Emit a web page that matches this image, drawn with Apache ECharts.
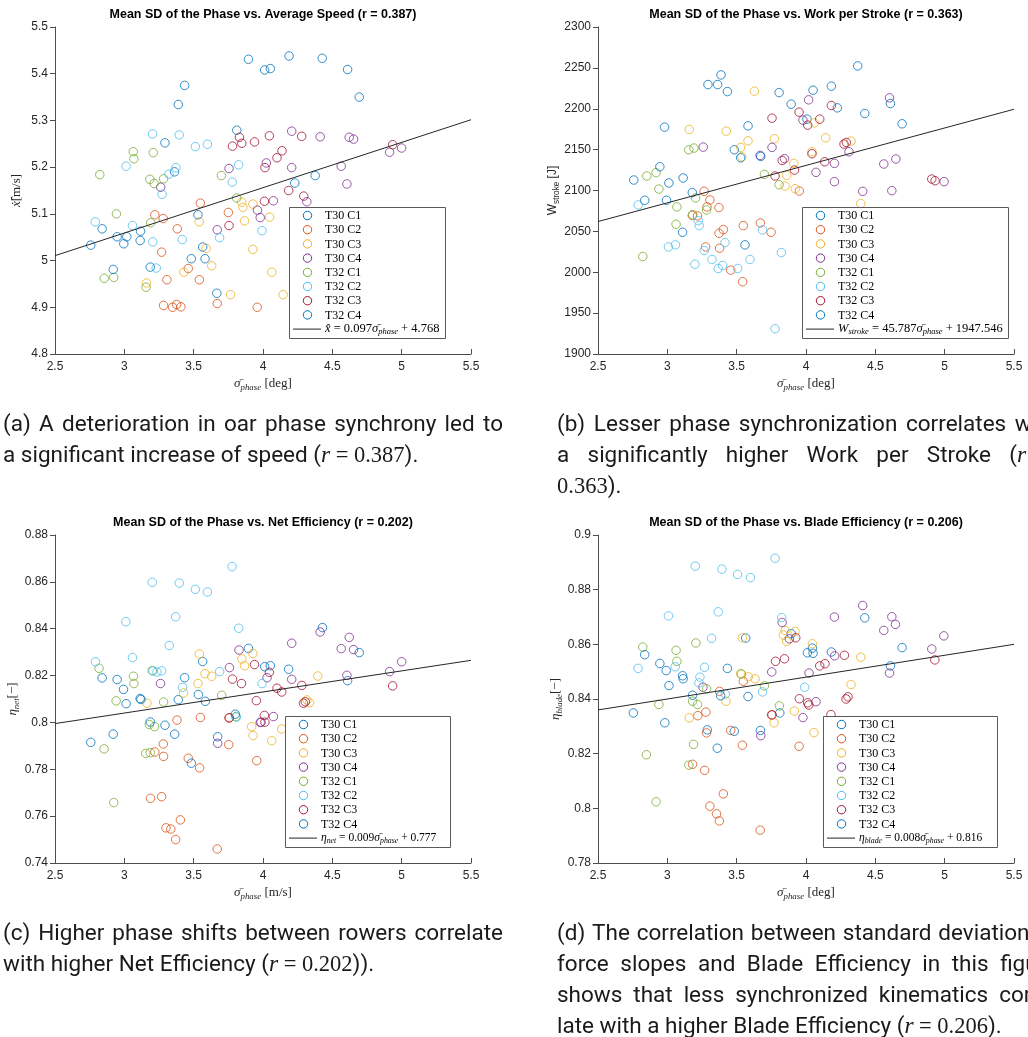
<!DOCTYPE html>
<html>
<head>
<meta charset="utf-8">
<script src="https://cdn.jsdelivr.net/npm/echarts@6/dist/echarts.min.js"></script>
<style>
html,body{margin:0;padding:0;background:#fff;}
#chart{width:1028px;height:1037px;}
</style>
</head>
<body>
<div id="chart"></div>
<script>
// ---- crews / conditions ----
const seriesNames = ['T30 C1','T30 C2','T30 C3','T30 C4','T32 C1','T32 C2','T32 C3','T32 C4'];
const seriesColors = ['#0072BD','#D95319','#EDB120','#7E2F8E','#77AC30','#4DBEEE','#A2142F','#0072BD'];

// ---- mean SD of phase [deg] vs. average speed [m/s] ----
const speedPoints = [
  [[3.435,5.375],[3.389,5.334],[3.811,5.279],[3.895,5.431],[4.012,5.408],[4.053,5.411],[4.188,5.438],[4.427,5.433],[4.61,5.409],[4.694,5.35],[4.376,5.182],[4.229,5.166],[3.293,5.252],[3.362,5.19]],
  [[3.22,5.098],[3.28,5.09],[3.382,5.068],[3.269,5.018],[3.548,5.123],[3.75,5.103],[3.307,4.959],[3.461,4.983],[3.541,4.959],[3.67,4.908],[3.283,4.904],[3.348,4.9],[3.377,4.906],[3.408,4.901],[3.958,4.9]],
  [[3.54,5.083],[3.59,5.026],[3.847,5.125],[3.855,5.114],[3.867,5.085],[3.927,5.121],[3.927,5.024],[3.63,4.989],[3.16,4.952],[3.43,4.975],[3.766,4.927],[4.048,5.093],[4.063,4.975],[4.145,4.927]],
  [[3.262,5.157],[3.755,5.197],[3.67,5.066],[3.96,5.108],[3.98,5.092],[4.207,5.277],[4.412,5.265],[4.622,5.264],[4.653,5.26],[4.913,5.232],[5.0,5.241],[4.024,5.209],[4.207,5.199],[4.564,5.202],[4.605,5.164],[4.316,5.126],[4.075,5.128]],
  [[3.064,5.233],[3.069,5.218],[3.208,5.231],[2.823,5.184],[3.184,5.174],[3.215,5.165],[3.283,5.175],[3.7,5.182],[2.943,5.1],[3.19,5.081],[3.81,5.134],[2.855,4.962],[2.924,4.964],[3.157,4.943]],
  [[3.204,5.271],[3.396,5.269],[3.512,5.244],[3.599,5.249],[3.013,5.202],[3.372,5.199],[3.322,5.185],[3.272,5.142],[3.824,5.205],[3.778,5.168],[2.79,5.083],[3.059,5.075],[3.205,5.04],[3.418,5.045],[3.687,5.049],[3.23,4.984],[3.993,5.064]],
  [[3.83,5.264],[3.847,5.251],[3.78,5.245],[3.939,5.254],[3.755,5.075],[4.046,5.267],[4.279,5.266],[4.935,5.248],[4.137,5.235],[4.101,5.22],[4.014,5.199],[4.185,5.15],[4.294,5.138],[4.01,5.127]],
  [[2.84,5.068],[3.117,5.063],[3.114,5.043],[2.948,5.051],[3.018,5.051],[2.996,5.036],[2.758,5.033],[3.531,5.098],[3.565,5.029],[3.582,5.004],[3.483,5.004],[2.92,4.981],[3.187,4.986],[3.667,4.93]]
];

// ---- mean SD of phase [deg] vs. work per stroke [J] ----
const workPoints = [
  [[3.387,2241.4],[3.293,2229.6],[3.363,2229.6],[3.433,2221],[3.806,2219.8],[3.893,2205.6],[4.373,2252.4],[4.051,2222.7],[4.183,2227.6],[4.609,2206.4],[4.226,2201.1],[4.424,2194.2],[4.693,2181.6],[4.007,2187.3]],
  [[3.265,2099],[3.307,2088.4],[3.286,2079.9],[3.372,2079.1],[3.18,2069.5],[3.218,2068.9],[3.373,2047.7],[3.404,2052.2],[3.548,2057.1],[3.671,2060.3],[3.748,2048.9],[3.276,2031],[3.377,2029.4],[3.457,2002.6],[3.543,1988.4],[3.952,2099.4]],
  [[3.628,2221.5],[3.158,2174.7],[3.425,2172.6],[3.582,2160.8],[3.772,2163.3],[3.529,2152.7],[3.536,2141.3],[3.912,2133.2],[3.861,2118.5],[3.849,2105.5],[3.922,2102.2],[4.06,2182.8],[4.142,2164.5],[4.325,2160.4],[4.043,2147.4],[4.395,2084]],
  [[3.259,2153.1],[3.669,2142.9],[3.755,2152.7],[3.845,2138.9],[4.019,2210.9],[4.602,2213.3],[3.978,2186.1],[4.31,2147.4],[4.205,2133.2],[4.561,2132.4],[4.648,2138.5],[4.072,2122.2],[4.205,2110.8],[4.409,2099],[4.619,2099.8],[4.996,2110.8]],
  [[3.155,2149.8],[3.192,2151.9],[3.7,2119.7],[3.806,2107.1],[2.919,2121.8],[2.852,2117.7],[2.939,2101.8],[3.204,2090.9],[3.069,2079.9],[3.283,2076.2],[3.183,2070.5],[3.063,2058.7],[2.823,2019.2]],
  [[2.79,2082.3],[3.223,2063.2],[3.23,2057.1],[3.686,2051.8],[3.008,2031],[3.059,2033.5],[3.416,2036.3],[3.266,2026.6],[3.822,2024.1],[3.199,2009.9],[3.322,2015.6],[3.367,2004.6],[3.399,2008.3],[3.507,2004.6],[3.596,2015.6],[3.777,1930.9]],
  [[3.755,2188.5],[3.828,2136.8],[3.777,2117.7],[3.917,2125],[3.95,2195.8],[4.183,2204],[4.012,2180],[4.099,2187.3],[4.274,2156.8],[4.291,2158.8],[4.043,2145],[4.135,2135.2],[4.907,2114],[4.931,2112]],
  [[2.98,2177.5],[3.582,2179.1],[3.483,2149.8],[3.529,2140],[2.946,2129.1],[2.758,2112.8],[3.011,2109.2],[3.114,2115.3],[3.18,2097.4],[2.837,2088],[2.994,2088],[3.11,2048.9],[3.56,2033.5],[3.674,2141.7]]
];

// ---- mean SD of phase vs. net efficiency [-] ----
const netEffPoints = [
  [[3.895,0.8316],[4.429,0.8405],[4.012,0.8238],[4.053,0.8242],[4.185,0.8227],[4.694,0.8298],[4.61,0.8178],[3.565,0.826],[3.435,0.8191],[3.389,0.8097],[3.534,0.8119],[3.584,0.809],[3.673,0.7939]],
  [[3.38,0.801],[3.548,0.8021],[3.755,0.8019],[3.753,0.7905],[3.22,0.7874],[3.281,0.7908],[3.283,0.7855],[3.461,0.7847],[3.543,0.7806],[3.955,0.7837],[3.189,0.7676],[3.269,0.7683],[3.404,0.7584],[3.3,0.755],[3.335,0.7545],[3.37,0.75],[3.67,0.746]],
  [[3.541,0.8292],[3.582,0.8208],[3.63,0.8197],[3.531,0.8166],[3.427,0.8126],[3.163,0.8082],[3.847,0.8271],[3.867,0.8242],[3.927,0.8294],[3.929,0.7944],[4.395,0.8198],[4.316,0.8096],[3.918,0.7982],[4.063,0.7922],[4.135,0.7972],[4.336,0.8084]],
  [[3.261,0.8166],[3.758,0.8234],[3.827,0.8309],[3.673,0.7911],[4.412,0.8386],[4.622,0.8363],[4.207,0.8338],[4.564,0.8315],[4.653,0.8311],[4.029,0.8191],[4.207,0.8184],[4.605,0.8201],[4.913,0.8217],[5.0,0.8259],[3.986,0.8001],[4.075,0.8025],[3.98,0.8]],
  [[2.818,0.8231],[3.201,0.8221],[3.066,0.8197],[3.069,0.8166],[2.941,0.8092],[3.283,0.8087],[3.702,0.8116],[3.18,0.7991],[3.218,0.7982],[3.804,0.8025],[2.854,0.7887],[3.155,0.7868],[3.187,0.7871],[2.924,0.7658]],
  [[3.777,0.8665],[3.201,0.8598],[3.396,0.8595],[3.512,0.8568],[3.599,0.8557],[3.011,0.843],[3.37,0.8451],[3.825,0.8402],[3.324,0.8328],[2.792,0.8259],[3.059,0.8277],[3.206,0.822],[3.235,0.8215],[3.269,0.822],[3.687,0.8217],[3.42,0.815],[3.993,0.8166],[3.808,0.8023]],
  [[3.78,0.8185],[3.939,0.8247],[3.845,0.8166],[3.757,0.802],[4.046,0.8214],[4.935,0.8156],[4.28,0.8158],[4.101,0.8146],[4.135,0.813],[3.952,0.8093],[4.292,0.8082],[4.305,0.8088],[4.01,0.803],[4.014,0.8001]],
  [[2.84,0.819],[2.948,0.8183],[2.994,0.8141],[3.013,0.808],[3.114,0.8102],[3.12,0.8098],[3.187,0.8002],[3.293,0.7988],[2.92,0.795],[2.758,0.7915],[3.363,0.795],[3.483,0.7826],[3.8,0.8035]]
];

// ---- mean SD of phase [deg] vs. blade efficiency [-] ----
const bladeEffPoints = [
  [[3.565,0.8623],[3.893,0.8639],[4.424,0.8697],[4.046,0.8586],[4.01,0.8569],[4.051,0.8567],[4.183,0.8572],[4.693,0.8588],[4.609,0.8521],[3.433,0.8512],[3.582,0.8409],[3.811,0.8349],[3.671,0.8285]],
  [[3.548,0.8465],[3.377,0.8428],[3.22,0.8339],[3.278,0.8352],[3.283,0.8276],[3.457,0.8285],[3.751,0.8342],[3.541,0.8231],[3.182,0.8161],[3.269,0.8139],[3.404,0.8053],[3.307,0.8008],[3.355,0.798],[3.375,0.7954],[3.67,0.792],[3.95,0.8227]],
  [[3.541,0.8624],[3.849,0.8651],[3.837,0.8634],[3.861,0.8611],[3.529,0.8493],[3.584,0.8481],[3.633,0.8474],[3.423,0.8392],[3.158,0.8331],[3.77,0.8313],[3.921,0.8647],[4.046,0.8602],[4.395,0.8553],[4.325,0.8453],[3.916,0.8356],[4.058,0.8277]],
  [[3.828,0.868],[3.257,0.8443],[3.753,0.8499],[3.674,0.8266],[4.409,0.8742],[4.205,0.87],[4.619,0.8701],[4.645,0.8673],[4.561,0.8651],[4.994,0.8631],[4.207,0.8558],[4.022,0.8495],[4.907,0.8583],[4.602,0.8495],[4.072,0.839],[3.978,0.8332],[3.88,0.862]],
  [[3.206,0.8605],[2.823,0.859],[3.063,0.8578],[3.069,0.8538],[3.283,0.8437],[3.534,0.8491],[3.70,0.8448],[3.182,0.8392],[3.218,0.838],[2.939,0.838],[3.808,0.8375],[3.189,0.8234],[2.849,0.8196],[3.155,0.8158],[2.919,0.8024]],
  [[3.777,0.8915],[3.201,0.8886],[3.394,0.8875],[3.507,0.8856],[3.599,0.8844],[3.367,0.8719],[3.008,0.8704],[3.825,0.8698],[3.319,0.8622],[2.789,0.8512],[3.057,0.8518],[3.268,0.8516],[3.235,0.848],[3.228,0.8459],[3.686,0.8426],[3.418,0.8418],[3.99,0.8443]],
  [[3.78,0.8538],[3.845,0.8547],[3.755,0.8342],[3.926,0.8624],[4.277,0.856],[4.137,0.8529],[4.099,0.8521],[4.929,0.8543],[4.303,0.8408],[4.289,0.84],[3.952,0.8401],[4.012,0.8386],[4.02,0.8378],[4.18,0.8343]],
  [[2.837,0.8562],[2.946,0.853],[2.992,0.8504],[3.11,0.8485],[3.114,0.8474],[3.012,0.8449],[3.182,0.8414],[3.384,0.8412],[2.755,0.8349],[2.982,0.8313],[3.288,0.8287],[3.483,0.8282],[3.36,0.822]]
];

// ---- linear fits (slope, intercept) as printed in the legends ----
const fitSlopes = [0.097, 45.787, 0.009, 0.008];
const fitIntercepts = [4.768, 1947.546, 0.777, 0.816];
const fitLabels = ['0.097','45.787','0.009','0.008'];
const fitOffsets = ['4.768','1947.546','0.777','0.816'];

// ---- axis ranges [min, max, step] ----
const phaseRange = [2.5, 5.5, 0.5];
const speedRange = [4.8, 5.5, 0.1];
const workRange = [1900, 2300, 50];
const netEffRange = [0.74, 0.88, 0.02];
const bladeEffRange = [0.78, 0.9, 0.02];

const panelTitles = [
  'Mean SD of the Phase vs. Average Speed (r = 0.387)',
  'Mean SD of the Phase vs. Work per Stroke (r = 0.363)',
  'Mean SD of the Phase vs. Net Efficiency (r = 0.202)',
  'Mean SD of the Phase vs. Blade Efficiency (r = 0.206)'
];

// caption lines: [text, justified]
const captionA = [
  ['(a) A deterioration in oar phase synchrony led to', true],
  ['a significant increase of speed ({r|r} {m|=} {m|0.387}).', false]
];
const captionB = [
  ['(b) Lesser phase synchronization correlates with', true],
  ['a significantly higher Work per Stroke ({r|r} {m|=}', true],
  ['{m|0.363}).', false]
];
const captionC = [
  ['(c) Higher phase shifts between rowers correlate', true],
  ['with higher Net Efficiency ({r|r} {m|=} {m|0.202})).', false]
];
const captionD = [
  ['(d) The correlation between standard deviation of', true],
  ['force slopes and Blade Efficiency in this figure', true],
  ['shows that less synchronized kinematics corre-', true],
  ['late with a higher Blade Efficiency ({r|r} {m|=} {m|0.206}).', false]
];

// ---------------------------------------------------------------
const AXIS_COLOR = '#4d4d4d';
const TEXT_COLOR = '#262626';
const SERIF = 'Liberation Serif';

const serifRich = (size) => ({
  i: {fontFamily: SERIF, fontStyle: 'italic', fontSize: size, color: TEXT_COLOR, lineHeight: 16},
  s: {fontFamily: SERIF, fontStyle: 'italic', fontSize: size * 0.68, color: TEXT_COLOR, lineHeight: 16, padding: [7, 0, 0, 0]},
  n: {fontFamily: SERIF, fontSize: size, color: TEXT_COLOR, lineHeight: 16},
  a: {fontFamily: 'Liberation Sans', fontSize: size - 1, color: TEXT_COLOR, lineHeight: 16},
  b: {fontFamily: 'Liberation Sans', fontSize: (size - 1) * 0.68, color: TEXT_COLOR, lineHeight: 16, padding: [7, 0, 0, 0]}
});

const tickText = v => String(+v.toFixed(6));

const panels = [
  {points: speedPoints, range: speedRange, grid: {left: 55, top: 27, width: 416, height: 327},
   yName: '{i|ẋ̂}{n|[m/s]}', yGap: 30, xName: '{i|σ̄}{s|phase} {n|[deg]}',
   legend: [289, 207, 156, 131], eqHead: '{i|x̂}'},
  {points: workPoints, range: workRange, grid: {left: 598, top: 27, width: 416, height: 327},
   yName: '{a|W}{b|stroke}{a| [J]}', yGap: 36, xName: '{i|σ̄}{s|phase} {n|[deg]}',
   legend: [802, 207, 206, 131], eqHead: '{i|W}{s|stroke}'},
  {points: netEffPoints, range: netEffRange, grid: {left: 55, top: 535, width: 416, height: 328},
   yName: '{i|η}{s|net}{n|[−]}', yGap: 34, xName: '{i|σ̄}{s|phase} {n|[m/s]}',
   legend: [285, 716, 165, 131], eqHead: '{i|η}{s|net}'},
  {points: bladeEffPoints, range: bladeEffRange, grid: {left: 598, top: 535, width: 416, height: 328},
   yName: '{i|η}{s|blade}{n|[−]}', yGap: 34, xName: '{i|σ̄}{s|phase} {n|[deg]}',
   legend: [823, 716, 174, 131], eqHead: '{i|η}{s|blade}'}
];

const grids = [], xAxes = [], yAxes = [], series = [], graphics = [];

panels.forEach((p, k) => {
  grids.push(Object.assign({containLabel: false}, p.grid));
  xAxes.push({
    type: 'value', gridIndex: k, min: phaseRange[0], max: phaseRange[1], interval: phaseRange[2],
    axisLine: {show: true, onZero: false, lineStyle: {color: AXIS_COLOR, width: 1}},
    axisTick: {show: true, inside: true, length: 5, lineStyle: {color: AXIS_COLOR}},
    axisLabel: {color: TEXT_COLOR, fontFamily: 'Liberation Sans', fontSize: 12, margin: 7, formatter: tickText},
    splitLine: {show: false},
    name: p.xName, nameLocation: 'middle', nameGap: 22,
    nameTextStyle: {rich: serifRich(13)}
  });
  yAxes.push({
    type: 'value', gridIndex: k, min: p.range[0], max: p.range[1], interval: p.range[2],
    axisLine: {show: true, onZero: false, lineStyle: {color: AXIS_COLOR, width: 1}},
    axisTick: {show: true, inside: false, length: 5, lineStyle: {color: AXIS_COLOR}},
    axisLabel: {color: TEXT_COLOR, fontFamily: 'Liberation Sans', fontSize: 12, margin: 7, formatter: tickText},
    splitLine: {show: false},
    name: p.yName, nameLocation: 'middle', nameGap: p.yGap, nameRotate: 90,
    nameTextStyle: {rich: serifRich(13)}
  });

  p.points.forEach((pts, s) => {
    series.push({
      type: 'scatter', name: seriesNames[s], xAxisIndex: k, yAxisIndex: k,
      data: pts, symbol: 'circle', symbolSize: 8.5, silent: true,
      itemStyle: {color: 'rgba(0,0,0,0)', borderColor: seriesColors[s], borderWidth: 1}
    });
  });

  // fitted regression line over the full axis span
  const x0 = phaseRange[0], x1 = phaseRange[1];
  series.push({
    type: 'line', xAxisIndex: k, yAxisIndex: k, silent: true, showSymbol: false,
    data: [[x0, fitIntercepts[k] + fitSlopes[k] * x0], [x1, fitIntercepts[k] + fitSlopes[k] * x1]],
    lineStyle: {color: '#262626', width: 1}, z: 3
  });

  // panel title
  graphics.push({
    type: 'text', x: p.grid.left + p.grid.width / 2, y: p.grid.top - 12, z: 100,
    style: {text: panelTitles[k], fontFamily: 'Liberation Sans', fontWeight: 'bold', fontSize: 12.5,
            fill: '#000', align: 'center', verticalAlign: 'middle'}
  });

  // legend box
  const [bx, by, bw, bh] = p.legend;
  graphics.push({type: 'rect', z: 100, shape: {x: bx + 0.5, y: by + 0.5, width: bw, height: bh},
                 style: {fill: '#fff', stroke: '#5a5a5a', lineWidth: 1}});
  const step = 14.2;
  seriesNames.forEach((nm, s) => {
    const ry = by + 8.5 + s * step;
    graphics.push({type: 'circle', z: 101, shape: {cx: bx + 18.5, cy: ry, r: 4.2},
                   style: {fill: 'none', stroke: seriesColors[s], lineWidth: 1}});
    graphics.push({type: 'text', z: 101, x: bx + 36, y: ry + 0.5,
                   style: {text: nm, fontFamily: SERIF, fontSize: 12, fill: '#000', align: 'left', verticalAlign: 'middle'}});
  });
  const ly = by + 8.5 + 8 * step;
  graphics.push({type: 'line', z: 101, shape: {x1: bx + 4, y1: ly, x2: bx + 32, y2: ly},
                 style: {stroke: '#262626', lineWidth: 1}});
  const eqSize = k >= 2 ? 11.5 : 12.5;
  const eqRich = serifRich(eqSize);
  Object.keys(eqRich).forEach(key => { eqRich[key].color = undefined; eqRich[key].fill = '#000'; eqRich[key].lineHeight = 14; });
  eqRich.s.padding = [6, 0, 0, 0];
  graphics.push({type: 'text', z: 101, x: bx + 36, y: ly,
                 style: {text: p.eqHead + '{n| = ' + fitLabels[k] + '}{i|σ̄}{s|phase}{n| + ' + fitOffsets[k] + '}',
                         rich: eqRich, fontFamily: SERIF, fontSize: eqSize, fill: '#000', align: 'left', verticalAlign: 'middle'}});
});

// ---- subfigure captions (justified like the document text) ----
const CAP_SIZE = 22.5;
const capFonts = {
  '': CAP_SIZE + 'px Roboto',
  r: 'italic ' + (CAP_SIZE + 1) + 'px "' + SERIF + '"',
  m: CAP_SIZE + 'px "' + SERIF + '"'
};
const capRich = {
  r: {fontFamily: SERIF, fontStyle: 'italic', fontSize: CAP_SIZE + 1, fill: '#1a1a1a'},
  m: {fontFamily: SERIF, fontSize: CAP_SIZE, fill: '#1a1a1a'}
};
const mctx = document.createElement('canvas').getContext('2d');
function measureWord(word) {
  let w = 0, last = 0, m;
  const re = /\{(\w+)\|([^}]*)\}/g;
  while ((m = re.exec(word))) {
    if (m.index > last) { mctx.font = capFonts['']; w += mctx.measureText(word.slice(last, m.index)).width; }
    mctx.font = capFonts[m[1]]; w += mctx.measureText(m[2]).width;
    last = re.lastIndex;
  }
  if (last < word.length) { mctx.font = capFonts['']; w += mctx.measureText(word.slice(last)).width; }
  return w;
}
mctx.font = capFonts[''];
const spaceW = mctx.measureText(' ').width;

function addCaption(lines, x0, y0, width, lineStep) {
  lines.forEach(([txt, justify], li) => {
    const words = txt.split(' ');
    const widths = words.map(measureWord);
    const total = widths.reduce((a, b) => a + b, 0);
    const gap = justify && words.length > 1 ? (width - total) / (words.length - 1) : spaceW;
    let x = x0;
    words.forEach((w, wi) => {
      graphics.push({type: 'text', z: 100, x: x, y: y0 + li * lineStep,
                     style: {text: w, rich: capRich, fontFamily: 'Roboto', fontSize: CAP_SIZE, fill: '#1a1a1a',
                             align: 'left', verticalAlign: 'middle'}});
      x += widths[wi] + gap;
    });
  });
}
addCaption(captionA, 3, 425, 500, 31);
addCaption(captionB, 557, 425, 500, 31);
addCaption(captionC, 3, 934, 500, 31);
addCaption(captionD, 557, 934, 500, 31);

const chart = echarts.init(document.getElementById('chart'), null, {renderer: 'canvas'});
chart.setOption({
  animation: false,
  backgroundColor: '#fff',
  grid: grids, xAxis: xAxes, yAxis: yAxes, series: series,
  graphic: {elements: graphics}
});
</script>
</body>
</html>
